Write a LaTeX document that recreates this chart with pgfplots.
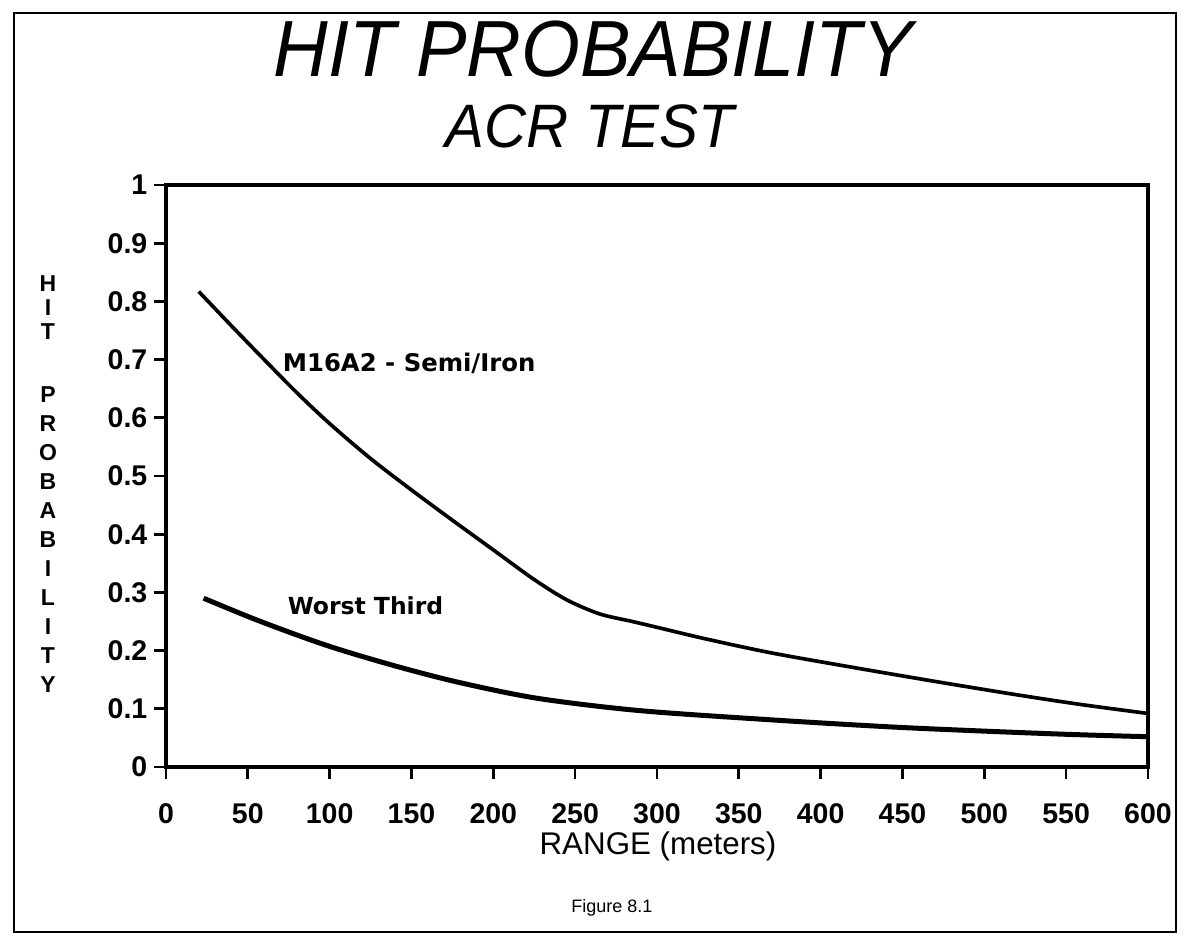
\documentclass[border=0pt]{standalone}
\usepackage{pgfplots}
\pgfplotsset{compat=1.18}
\usepackage{fontspec}
\setmainfont{Liberation Sans}
\newfontfamily\dejavu{DejaVu Sans}

\pgfplotstableread{
x y
20 0.817
40 0.758
60 0.700
80 0.643
100 0.590
125 0.530
150 0.476
175 0.424
200 0.373
225 0.322
245 0.287
265 0.263
285 0.250
300 0.240
330 0.220
370 0.196
420 0.171
470 0.147
520 0.124
560 0.107
600 0.092
}\mtable

\pgfplotstableread{
x y
23 0.290
56 0.252
97 0.210
137 0.176
178 0.146
227 0.118
289 0.097
370 0.081
442 0.069
497 0.062
552 0.056
600 0.052
}\wtable

\begin{document}
\begin{tikzpicture}
\path[use as bounding box] (0,0) rectangle (359.4pt,282pt);
\draw[line width=0.8pt] (4.2pt,2.4pt) rectangle (352.8pt,278.1pt);
\node[anchor=base, inner sep=0pt, font=\fontsize{23.9}{24}\selectfont\itshape] at (177.9pt,259.2pt) {\scalebox{0.95}[1]{HIT PROBABILITY}};
\node[anchor=base, inner sep=0pt, font=\fontsize{18.4}{19}\selectfont\itshape] at (177pt,237.9pt) {\scalebox{0.95}[1]{ACR TEST}};
\node[anchor=north, inner sep=0pt, align=center, font=\fontsize{6.9}{7.2}\selectfont\bfseries] at (14.4pt,199.5pt) {H\\I\\T};
\node[anchor=north, inner sep=0pt, align=center, font=\fontsize{6.9}{8.7}\selectfont\bfseries] at (14.4pt,166.2pt) {P\\R\\O\\B\\A\\B\\I\\L\\I\\T\\Y};
\node[anchor=base, inner sep=0pt, font=\fontsize{9.4}{10}\selectfont] at (197.4pt,25.8pt) {RANGE (meters)};
\node[anchor=base, inner sep=0pt, font=\fontsize{5.4}{6}\selectfont] at (183.6pt,8.4pt) {Figure 8.1};
\begin{axis}[
  at={(49.8pt,51.9pt)}, anchor=south west,
  scale only axis, width=294.6pt, height=174.6pt,
  xmin=0, xmax=600, ymin=0, ymax=1,
  xtick={0,50,100,150,200,250,300,350,400,450,500,550,600},
  ytick={0,0.1,0.2,0.3,0.4,0.5,0.6,0.7,0.8,0.9,1},
  yticklabels={0,0.1,0.2,0.3,0.4,0.5,0.6,0.7,0.8,0.9,1},
  xtick pos=left, ytick pos=left,
  tick align=outside,
  major tick length=3.6pt,
  axis line style={line width=1pt},
  every tick/.style={line width=0.8pt, black},
  /pgf/number format/assume math mode=true,
  ticklabel style={font=\fontsize{8.55}{9}\selectfont\bfseries},
  xticklabel style={anchor=north, inner sep=0pt, yshift=-7.2pt},
  yticklabel style={anchor=east, inner sep=0pt, xshift=-1.8pt},
  clip=false,
]
\addplot[black, line width=1.1pt, smooth] table[x=x,y=y] {\mtable};
\addplot[black, line width=1.5pt, smooth] table[x=x,y=y] {\wtable};
\node[anchor=base west, inner sep=0pt, font=\dejavu\fontsize{7.3}{8}\selectfont\bfseries] at (axis cs:71,0.68) {M16A2 - Semi/Iron};
\node[anchor=base west, inner sep=0pt, font=\dejavu\fontsize{7.05}{8}\selectfont\bfseries] at (axis cs:74,0.262) {Worst Third};
\end{axis}
\end{tikzpicture}
\end{document}
